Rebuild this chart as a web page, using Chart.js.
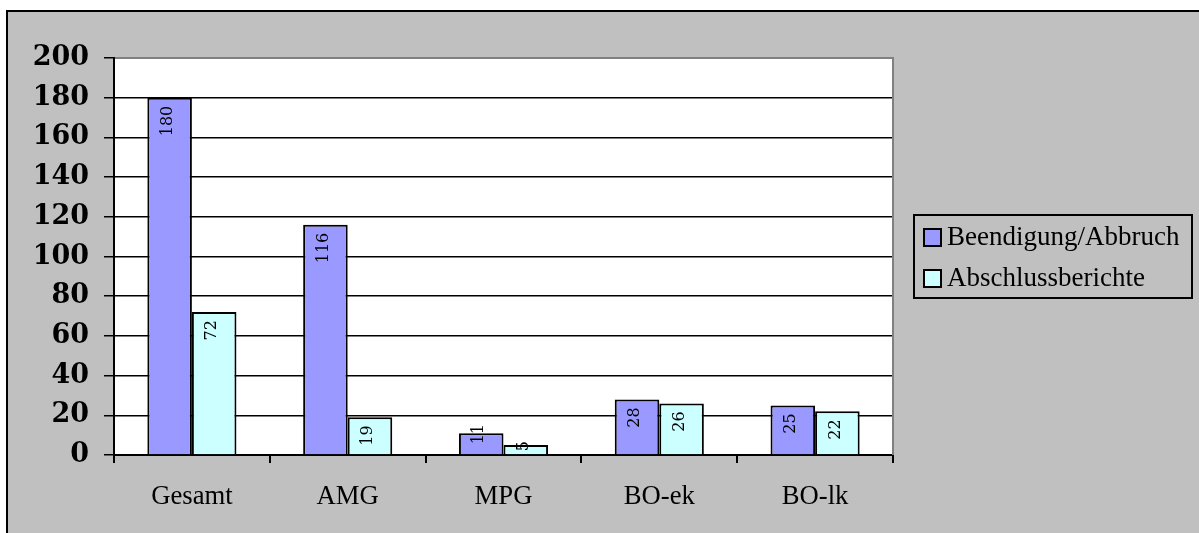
<!DOCTYPE html>
<html>
<head>
<meta charset="utf-8">
<script src="https://cdn.jsdelivr.net/npm/chart.js@4.4.1/dist/chart.umd.min.js"></script>
<style>
html,body{margin:0;padding:0;background:#fff;}
canvas{display:block;}
</style>
</head>
<body>
<canvas id="c" width="1199" height="533"></canvas>
<script>
const categories = ["Gesamt", "AMG", "MPG", "BO-ek", "BO-lk"];
const seriesNames = ["Beendigung/Abbruch", "Abschlussberichte"];
const beendigung = [180, 116, 11, 28, 25];
const abschluss = [72, 19, 5, 26, 22];
const yMin = 0, yMax = 200, yStep = 20;

const PLOT = {left: 114, top: 58, right: 893, bottom: 455};

const bgPlugin = {
  id: 'bg',
  beforeDraw(chart) {
    const ctx = chart.ctx;
    ctx.save();
    ctx.fillStyle = '#ffffff';
    ctx.fillRect(0, 0, chart.width, chart.height);
    ctx.fillStyle = '#c0c0c0';
    ctx.fillRect(7, 11, chart.width, chart.height);
    ctx.strokeStyle = '#000';
    ctx.lineWidth = 2;
    ctx.beginPath();
    ctx.moveTo(7, chart.height + 2);
    ctx.lineTo(7, 11);
    ctx.lineTo(chart.width + 2, 11);
    ctx.stroke();
    const a = chart.chartArea;
    ctx.fillStyle = '#ffffff';
    ctx.fillRect(a.left, a.top, a.right - a.left, a.bottom - a.top);
    ctx.restore();
  },
  beforeDatasetsDraw(chart) {
    const ctx = chart.ctx, a = chart.chartArea;
    ctx.save();
    ctx.strokeStyle = '#808080';
    ctx.lineWidth = 2;
    ctx.beginPath();
    ctx.moveTo(a.left + 1, a.top);
    ctx.lineTo(a.right, a.top);
    ctx.lineTo(a.right, a.bottom);
    ctx.stroke();
    ctx.restore();
  },
  afterDatasetsDraw(chart) {
    const ctx = chart.ctx;
    ctx.save();
    ctx.font = '16px "DejaVu Serif"';
    ctx.fillStyle = '#000';
    chart.data.datasets.forEach((ds, di) => {
      const meta = chart.getDatasetMeta(di);
      meta.data.forEach((bar, i) => {
        const txt = String(ds.data[i]);
        const w = ctx.measureText(txt).width;
        const top = bar.y, base = bar.base;
        ctx.save();
        if (base - top >= w + 12) {
          ctx.translate(bar.x - 2, top + 8);
          ctx.rotate(-Math.PI / 2);
          ctx.textAlign = 'right';
        } else {
          ctx.translate(bar.x - 2, top + 1);
          ctx.rotate(-Math.PI / 2);
          ctx.textAlign = 'center';
        }
        ctx.textBaseline = 'middle';
        ctx.fillText(txt, 0, 0);
        ctx.restore();
      });
    });
    ctx.restore();
  },
  afterDraw(chart) {
    const ctx = chart.ctx;
    ctx.save();
    ctx.strokeStyle = '#000';
    ctx.lineWidth = 2;
    ctx.strokeRect(914, 215, 278, 83);
    const rows = [237, 278];
    ctx.font = '27px "Liberation Serif"';
    ctx.textBaseline = 'middle';
    ctx.textAlign = 'left';
    chart.data.datasets.forEach((ds, i) => {
      const cy = rows[i];
      ctx.fillStyle = ds.backgroundColor;
      ctx.fillRect(924, cy - 8, 17, 17);
      ctx.strokeStyle = '#000';
      ctx.lineWidth = 2;
      ctx.strokeRect(924, cy - 8, 17, 17);
      ctx.fillStyle = '#000';
      ctx.fillText(ds.label, 947, cy + 1);
    });
    ctx.restore();
  }
};

new Chart(document.getElementById('c'), {
  type: 'bar',
  data: {
    labels: categories,
    datasets: [
      {label: seriesNames[0], data: beendigung, backgroundColor: '#9999ff', borderColor: '#000', borderWidth: 2, borderSkipped: 'bottom'},
      {label: seriesNames[1], data: abschluss, backgroundColor: '#ccffff', borderColor: '#000', borderWidth: 2, borderSkipped: 'bottom'}
    ]
  },
  options: {
    responsive: false,
    animation: false,
    devicePixelRatio: 1,
    layout: {padding: {left: 0, top: PLOT.top, right: 1199 - PLOT.right, bottom: 0}},
    datasets: {bar: {categoryPercentage: 0.572, barPercentage: 1.0}},
    plugins: {legend: {display: false}, tooltip: {enabled: false}},
    scales: {
      x: {
        afterFit(s) { s.height = 533 - PLOT.bottom; },
        grid: {display: true, drawOnChartArea: false, drawTicks: true, tickLength: 8, color: '#000', lineWidth: 2, offset: true},
        border: {display: true, color: '#000', width: 2},
        ticks: {color: '#000', font: {family: '"Liberation Serif"', size: 26.7}, padding: 18, maxRotation: 0, autoSkip: false}
      },
      y: {
        min: yMin, max: yMax,
        afterFit(s) { s.width = PLOT.left; },
        grid: {color: '#000', lineWidth: 1.5, tickLength: 10, drawTicks: true},
        border: {display: true, color: '#000', width: 2},
        ticks: {stepSize: yStep, color: '#000', font: {family: '"DejaVu Serif"', size: 27, weight: 'bold'}, padding: 15}
      }
    }
  },
  plugins: [bgPlugin]
});
</script>
</body>
</html>
